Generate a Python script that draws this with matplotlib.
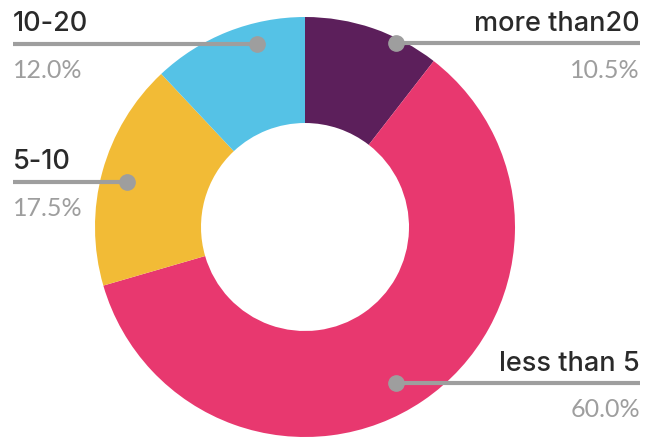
import matplotlib.pyplot as plt

# data
labels = ["more than20", "less than 5", "5-10", "10-20"]
shares = [10.5, 60.0, 17.5, 12.0]
colors = ["#5C1F5B", "#E8386F", "#F2BB36", "#55C2E6"]

W, H = 653, 439
fig = plt.figure(figsize=(W / 100, H / 100), dpi=100)
ax = fig.add_axes([0, 0, 1, 1])

# donut, center in pixel coords (y flipped)
ax.pie(shares, colors=colors, startangle=90, counterclock=False,
       center=(305, H - 228), radius=210,
       wedgeprops=dict(width=106, linewidth=0))
ax.set_xlim(0, W)
ax.set_ylim(0, H)
ax.set_aspect('auto')
ax.axis('off')

# callouts: (dot x, line y, line end x, side, title baseline, pct baseline)
callouts = {
    "10-20": (257, 45, 13, 'left', 31, 78),
    "5-10": (127, 183, 13, 'left', 169, 216),
    "more than20": (396, 44, 640, 'right', 31, 78),
    "less than 5": (396, 384, 640, 'right', 371, 417),
}

for lab, val in zip(labels, shares):
    dx, ly, ex, side, tb, pb = callouts[lab]
    ax.plot([dx, ex], [H - ly, H - ly], color='#9E9E9E', lw=3, solid_capstyle='butt', zorder=3)
    ax.plot([dx], [H - ly], 'o', color='#9E9E9E', ms=11, zorder=4)
    ax.text(ex, H - tb, lab, ha=side, va='baseline', fontsize=19.5,
            color='#2A2A2A', family=['Inter', 'DejaVu Sans'], fontweight='medium')
    ax.text(ex, H - pb, f"{val:.1f}%", ha=side, va='baseline', fontsize=18,
            color='#9E9E9E', family=['Lato', 'DejaVu Sans'])

fig.savefig('out.png', dpi=100)
